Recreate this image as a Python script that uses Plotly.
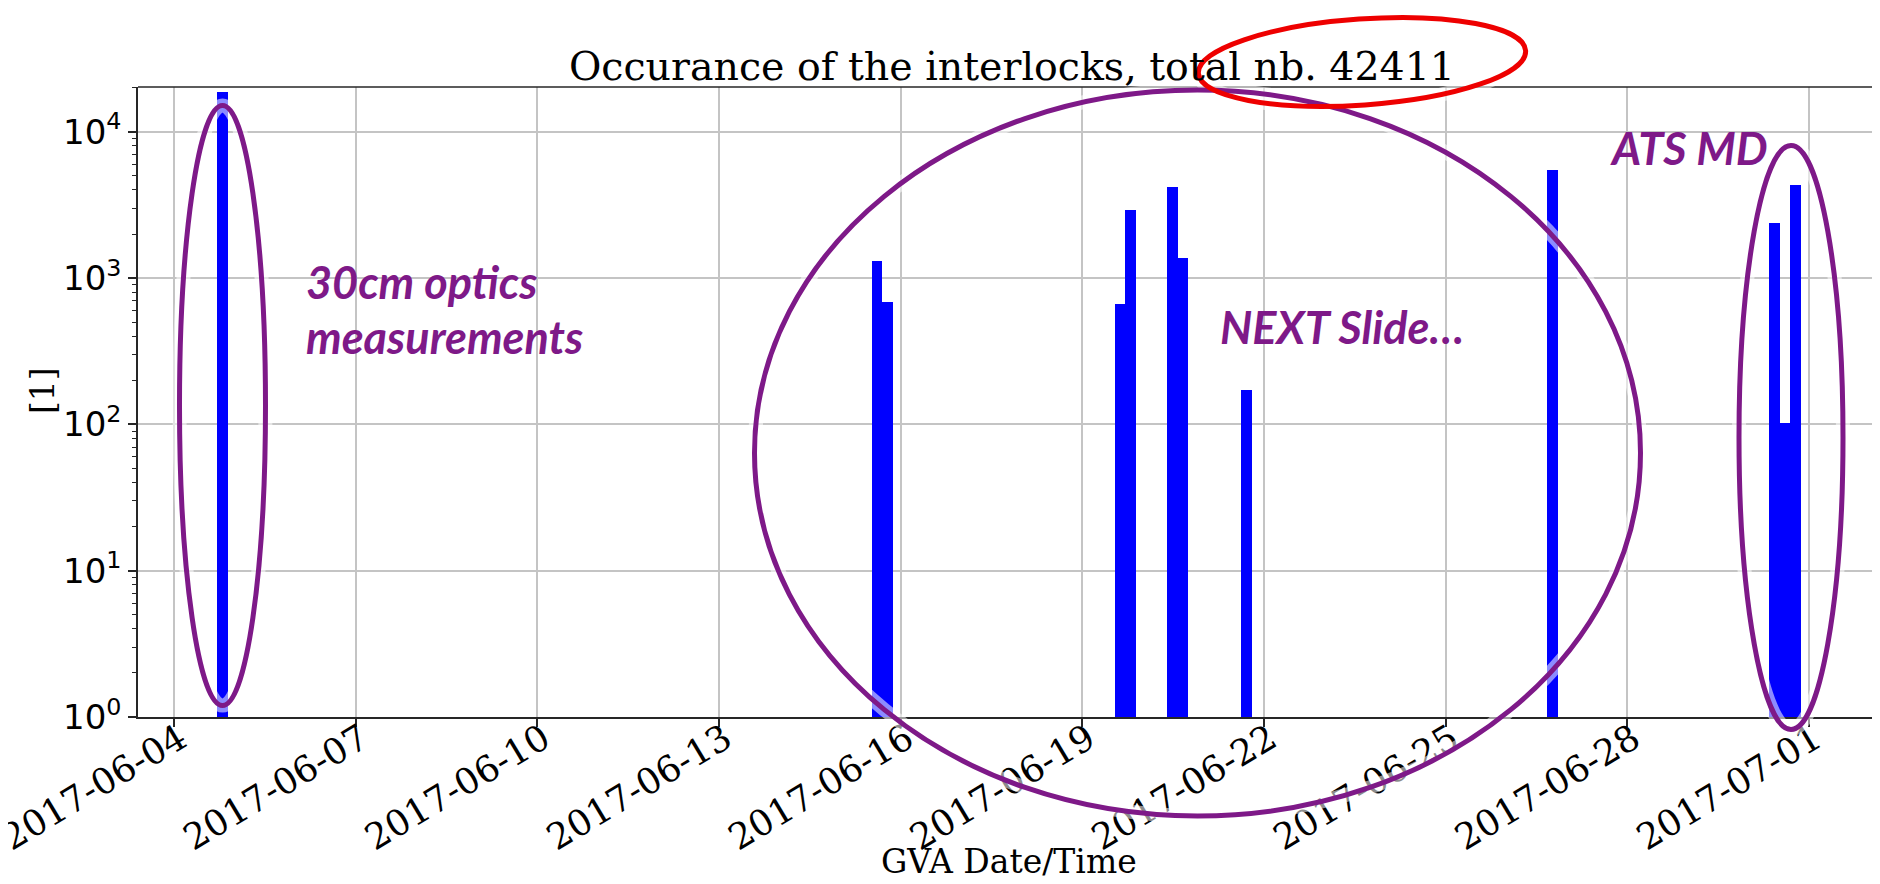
import math
import plotly.graph_objects as go

# ---------------- data ----------------
bin_start = [
    "2017-06-04 17:02", "2017-06-15 12:29", "2017-06-15 16:40",
    "2017-06-19 12:43", "2017-06-19 16:54", "2017-06-20 09:38",
    "2017-06-20 13:49", "2017-06-21 14:56", "2017-06-26 16:16",
    "2017-06-30 08:08", "2017-06-30 12:19", "2017-06-30 16:30",
]
counts = [18810, 1300, 681, 665, 2920, 4220, 1380, 172, 5450, 2390, 103, 4320]
bin_width_ms = 15063840  # ~4.18 h histogram bin

x_range = ["2017-06-03 09:40", "2017-07-02 04:05"]
x_tick0 = "2017-06-04"
y_tickvals = [1, 10, 100, 1000, 10000]
y_ticktext = ["10<sup>0</sup>", "10<sup>1</sup>", "10<sup>2</sup>", "10<sup>3</sup>", "10<sup>4</sup>"]
y_minor = [m * 10 ** d for d in range(0, 5) for m in range(2, 10)]

title_text = f"Occurance of the interlocks, total nb. {sum(counts)}"
x_title = "GVA Date/Time"
y_title = "[1]"
notes = ["30cm optics", "measurements", "NEXT Slide…", "ATS MD"]

# ---------------- layout geometry ----------------
# page is offset by the 8px default body margin; work in page pixels
OFF = 8
W, H = 1880 - OFF, 884 - OFF
PL, PT, PB, PR = 138, 87, 717, 1880          # plot box in page pixels
L, T = PL - OFF, PT - OFF
B = H - (PB - OFF)
R = W - (PR - OFF)
PW, PH = W - L - R, H - T - B

def px(x):
    return (x - OFF - L) / PW

def py(y):
    return (PB - y) / PH

def ellipse_path(cx, cy, a, b, deg=0.0):
    k = 0.5523
    th = math.radians(deg)
    ct, st = math.cos(th), math.sin(th)
    def P(u, v):
        X = cx + u * ct + v * st
        Y = cy - u * st + v * ct
        return f"{px(X):.5f},{py(Y):.5f}"
    segs = [
        ("M", [(a, 0)]),
        ("C", [(a, k * b), (k * a, b), (0, b)]),
        ("C", [(-k * a, b), (-a, k * b), (-a, 0)]),
        ("C", [(-a, -k * b), (-k * a, -b), (0, -b)]),
        ("C", [(k * a, -b), (a, -k * b), (a, 0)]),
    ]
    s = ""
    for cmd, pl in segs:
        s += cmd + " ".join(P(u, v) for u, v in pl) + " "
    return s + "Z"

fig = go.Figure()
fig.add_trace(go.Bar(
    x=bin_start, y=counts, width=bin_width_ms, offset=0,
    marker=dict(color="#0000ff", line=dict(width=0)),
    showlegend=False,
))

PURPLE = "#7e1988"
axis_line = "#262626"
grid = "#c4c4c4"

ellipses = [
    # cx, cy, a, b, rot, color   (page pixels)
    (222.5, 405.5, 43, 300, 0, PURPLE),
    (1197.5, 453, 443, 363, 0, PURPLE),
    (1791, 437.5, 52, 292, 0, PURPLE),
    (1362, 62, 164, 43, 4, "#ee0000"),
]
shapes = [
    # top spine running to the right edge of the picture (reference is cropped there)
    dict(type="line", xref="paper", yref="paper", x0=0, x1=1.02, y0=1, y1=1,
         line=dict(color=axis_line, width=1.5), layer="above"),
]
for cx, cy, a, b, rot, col in ellipses:
    shapes.append(dict(type="path", xref="paper", yref="paper",
                       path=ellipse_path(cx, cy, a, b, rot),
                       line=dict(color="rgba(255,255,255,0.55)", width=14), layer="above"))
for cx, cy, a, b, rot, col in ellipses:
    shapes.append(dict(type="path", xref="paper", yref="paper",
                       path=ellipse_path(cx, cy, a, b, rot),
                       line=dict(color=col, width=5), layer="above"))

note_font = dict(family="Lato, Open Sans, sans-serif", size=45, color=PURPLE,
                 weight=700, style="italic")
note_pos = [(304, 282), (304, 337), (1218, 327), (1608, 148)]
annotations = []
for txt, (xx, yy) in zip(notes, note_pos):
    annotations.append(dict(text=txt, xref="paper", yref="paper", x=px(xx), y=py(yy),
                            xanchor="left", yanchor="middle", showarrow=False,
                            font=note_font))

serif = "DejaVu Serif"
annotations.append(dict(text=x_title, xref="paper", yref="paper", x=px(1009), y=py(861),
                        xanchor="center", yanchor="middle", showarrow=False,
                        font=dict(family=serif, size=33, color="black")))
annotations.append(dict(text=y_title, xref="paper", yref="paper", x=px(43), y=py(391),
                        xanchor="center", yanchor="middle", showarrow=False, textangle=-90,
                        font=dict(family=serif, size=33, color="black")))

fig.update_layout(
    width=W, height=H,
    margin=dict(l=L, r=R, t=T, b=B, autoexpand=False),
    paper_bgcolor="white", plot_bgcolor="white",
    title=dict(text=title_text, x=(1012 - OFF) / W, xanchor="center",
               y=1 - (66 - OFF) / H, yanchor="middle",
               font=dict(family=serif, size=39.5, color="black")),
    shapes=shapes,
    annotations=annotations,
    bargap=0,
)
fig.update_xaxes(
    type="date", range=x_range, tick0=x_tick0, dtick=3 * 86400000,
    tickformat="%Y-%m-%d", tickangle=-31,
    tickfont=dict(family=serif, size=36, color="black"),
    ticklabeloverflow="allow", ticklabelstandoff=-23, ticklabelshift=6,
    ticks="outside", ticklen=8, tickwidth=1.5, tickcolor=axis_line,
    showline=True, linecolor=axis_line, linewidth=1.5, mirror=False,
    showgrid=True, gridcolor=grid, gridwidth=1.5,
    automargin=False, zeroline=False,
)
fig.update_yaxes(
    type="log", range=[0, 4.306],
    tickmode="array", tickvals=y_tickvals, ticktext=y_ticktext,
    tickfont=dict(family="DejaVu Sans", size=34, color="black"),
    ticks="outside", ticklen=8, tickwidth=1.5, tickcolor=axis_line,
    minor=dict(tickmode="array", tickvals=y_minor, ticks="outside", ticklen=4,
               tickwidth=1, tickcolor=axis_line, showgrid=False),
    showline=True, linecolor=axis_line, linewidth=1.5, mirror=False,
    showgrid=True, gridcolor=grid, gridwidth=1.5,
    automargin=False, zeroline=False,
)

fig.write_html("out.html")
